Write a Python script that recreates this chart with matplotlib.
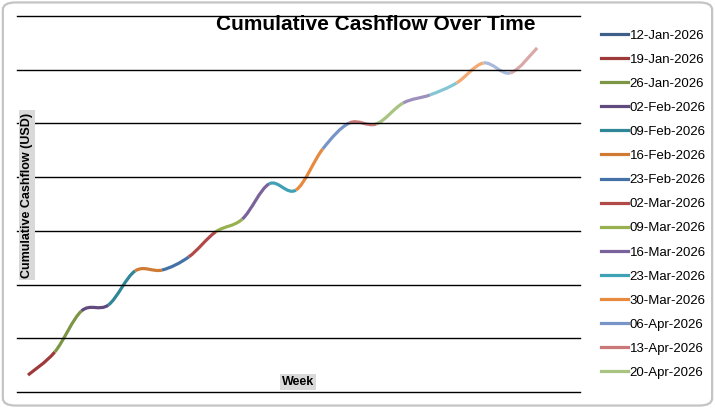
import numpy as np
import matplotlib.pyplot as plt
from matplotlib.path import Path
from matplotlib.patches import PathPatch, FancyBboxPatch
from matplotlib.lines import Line2D

plt.rcParams['font.family'] = ['Liberation Sans', 'DejaVu Sans']

# --- data ---
weeks = ["12-Jan-2026", "19-Jan-2026", "26-Jan-2026", "02-Feb-2026", "09-Feb-2026",
         "16-Feb-2026", "23-Feb-2026", "02-Mar-2026", "09-Mar-2026", "16-Mar-2026",
         "23-Mar-2026", "30-Mar-2026", "06-Apr-2026", "13-Apr-2026", "20-Apr-2026",
         "27-Apr-2026", "04-May-2026", "11-May-2026", "18-May-2026", "25-May-2026"]
cumulative = [630, 1490, 3020, 3240, 4510, 4540, 5030, 5960, 6440, 7750,
              7520, 9050, 10020, 9980, 10760, 11060, 11510, 12250, 11880, 12810]
week_colors = ["#3E5F8A", "#9E3B3A", "#7D9645", "#614A7E", "#2F8697", "#CF7B33",
               "#4471A6", "#B04A48", "#97B050", "#7A629A", "#3FA1B5", "#E88A3E",
               "#7994C6", "#C97A78", "#A9C382", "#9E90BC", "#86C6D4", "#F4AA72",
               "#A9B9DA", "#D9A9A8"]
n_legend = 15

fig = plt.figure(figsize=(7.15, 4.08), dpi=100)
fig.patches.append(FancyBboxPatch((0.004, 0.006), 0.992, 0.988,
                                  boxstyle="round,pad=0,rounding_size=0.018",
                                  transform=fig.transFigure, facecolor="white",
                                  edgecolor="#c4c4c4", linewidth=1.6, zorder=-1))
ax = fig.add_axes([17 / 715, 1 - 392 / 408, (580 - 17) / 715, (392 - 16) / 408])
ax.patch.set_alpha(0)

x = np.arange(len(cumulative), dtype=float)
y = np.array(cumulative, dtype=float)

# smooth (Catmull-Rom) curve, one coloured piece per week
for i in range(len(x) - 1):
    p0 = np.array([x[max(i - 1, 0)], y[max(i - 1, 0)]])
    p1 = np.array([x[i], y[i]])
    p2 = np.array([x[i + 1], y[i + 1]])
    p3 = np.array([x[min(i + 2, len(x) - 1)], y[min(i + 2, len(x) - 1)]])
    c1 = p1 + (p2 - p0) / 6
    c2 = p2 - (p3 - p1) / 6
    path = Path([p1, c1, c2, p2], [Path.MOVETO, Path.CURVE4, Path.CURVE4, Path.CURVE4])
    ax.add_patch(PathPatch(path, facecolor="none", edgecolor=week_colors[i + 1],
                           linewidth=2.3, capstyle="butt"))

ax.set_xlim(-0.41, 20.6)
ax.set_ylim(0, 14000)
ax.set_yticks(np.arange(0, 14001, 2000))
ax.set_xticks([])
ax.tick_params(axis="y", length=0, labelleft=False)
ax.grid(axis="y", color="black", linewidth=1.0)
for gl in ax.get_ygridlines():
    gl.set_clip_on(False)
for s in ax.spines.values():
    s.set_visible(False)

fig.text(376 / 715, 1 - 24 / 408, "Cumulative Cashflow Over Time", ha="center", va="center",
         fontsize=15, fontweight="bold")
fig.text(27 / 715, 1 - 195 / 408, "Cumulative Cashflow (USD)", rotation=90, ha="center",
         va="center", fontsize=9, fontweight="bold",
         bbox=dict(facecolor="#d9d9d9", edgecolor="none", pad=1.5))
fig.text(298 / 715, 1 - 382 / 408, "Week", ha="center", va="center", fontsize=9,
         fontweight="bold", bbox=dict(facecolor="#d9d9d9", edgecolor="none", pad=1.5))

handles = [Line2D([], [], color=week_colors[k], linewidth=2.3) for k in range(n_legend)]
fig.legend(handles, weeks[:n_legend], loc="upper left", bbox_to_anchor=(596 / 715, 1 - 24 / 408),
           frameon=False, fontsize=9.5, handlelength=2.0, handletextpad=0.15,
           labelspacing=0.9, borderaxespad=0)

fig.savefig("out.png", dpi=100)
